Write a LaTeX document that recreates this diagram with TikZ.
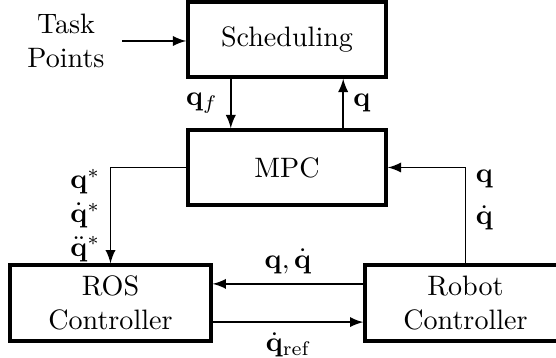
\documentclass[tikz,border=0pt]{standalone}
\usepackage{amsmath}
\tikzstyle{block}=[draw,line width=1.2pt,minimum width=70.5pt,minimum height=26.7pt,align=center]
\tikzstyle{ctrlblock}=[block,minimum width=71.5pt,minimum height=27pt]
\tikzstyle{sig}=[->,>=latex,line width=0.65pt]

\begin{document}
\begin{tikzpicture}[x=0.3559pt,y=-0.3559pt]
\useasboundingbox (0,0) rectangle (556,358);
% upper blocks
\node[block] (sched) at (287,39.5) {Scheduling};
\node[block] (mpc) at (287,167.5) {MPC};
% lower blocks
\node[ctrlblock] (ros) at (110.5,303) {ROS\\Controller};
\node[ctrlblock] (robot) at (465.5,303) {Robot\\Controller};
% input
\node[align=center] (task) at (66,41) {Task\\Points};
\coordinate (taskin) at (122,41);
\draw[sig] (taskin) -- (taskin -| sched.west);
% scheduling <-> mpc
\draw[sig] ([xshift=-20pt]sched.south) -- node[left=1pt] {$\mathbf{q}_f$} ([xshift=-20pt]mpc.north);
\draw[sig] ([xshift=20pt]mpc.north) -- node[right] {$\mathbf{q}$} ([xshift=20pt]sched.south);
% mpc -> ros
\draw[sig] (mpc.west) -| node[pos=0.75,left,align=left]
    {$\mathbf{q}^*$\\$\dot{\mathbf{q}}^*$\\$\ddot{\mathbf{q}}^*$} (ros.north);
% robot -> mpc
\draw[sig] (robot.north) |- node[pos=0.33,right,align=left]
    {$\mathbf{q}$\\[3pt]$\dot{\mathbf{q}}$} (mpc.east);
% robot <-> ros
\draw[sig] ([yshift=6.8pt]robot.west) -- node[above] {$\mathbf{q},\dot{\mathbf{q}}$} ([yshift=6.8pt]ros.east);
\draw[sig] ([yshift=-6.8pt]ros.east) -- node[below] {$\dot{\mathbf{q}}_{\text{ref}}$} ([yshift=-6.8pt]robot.west);
\end{tikzpicture}
\end{document}
